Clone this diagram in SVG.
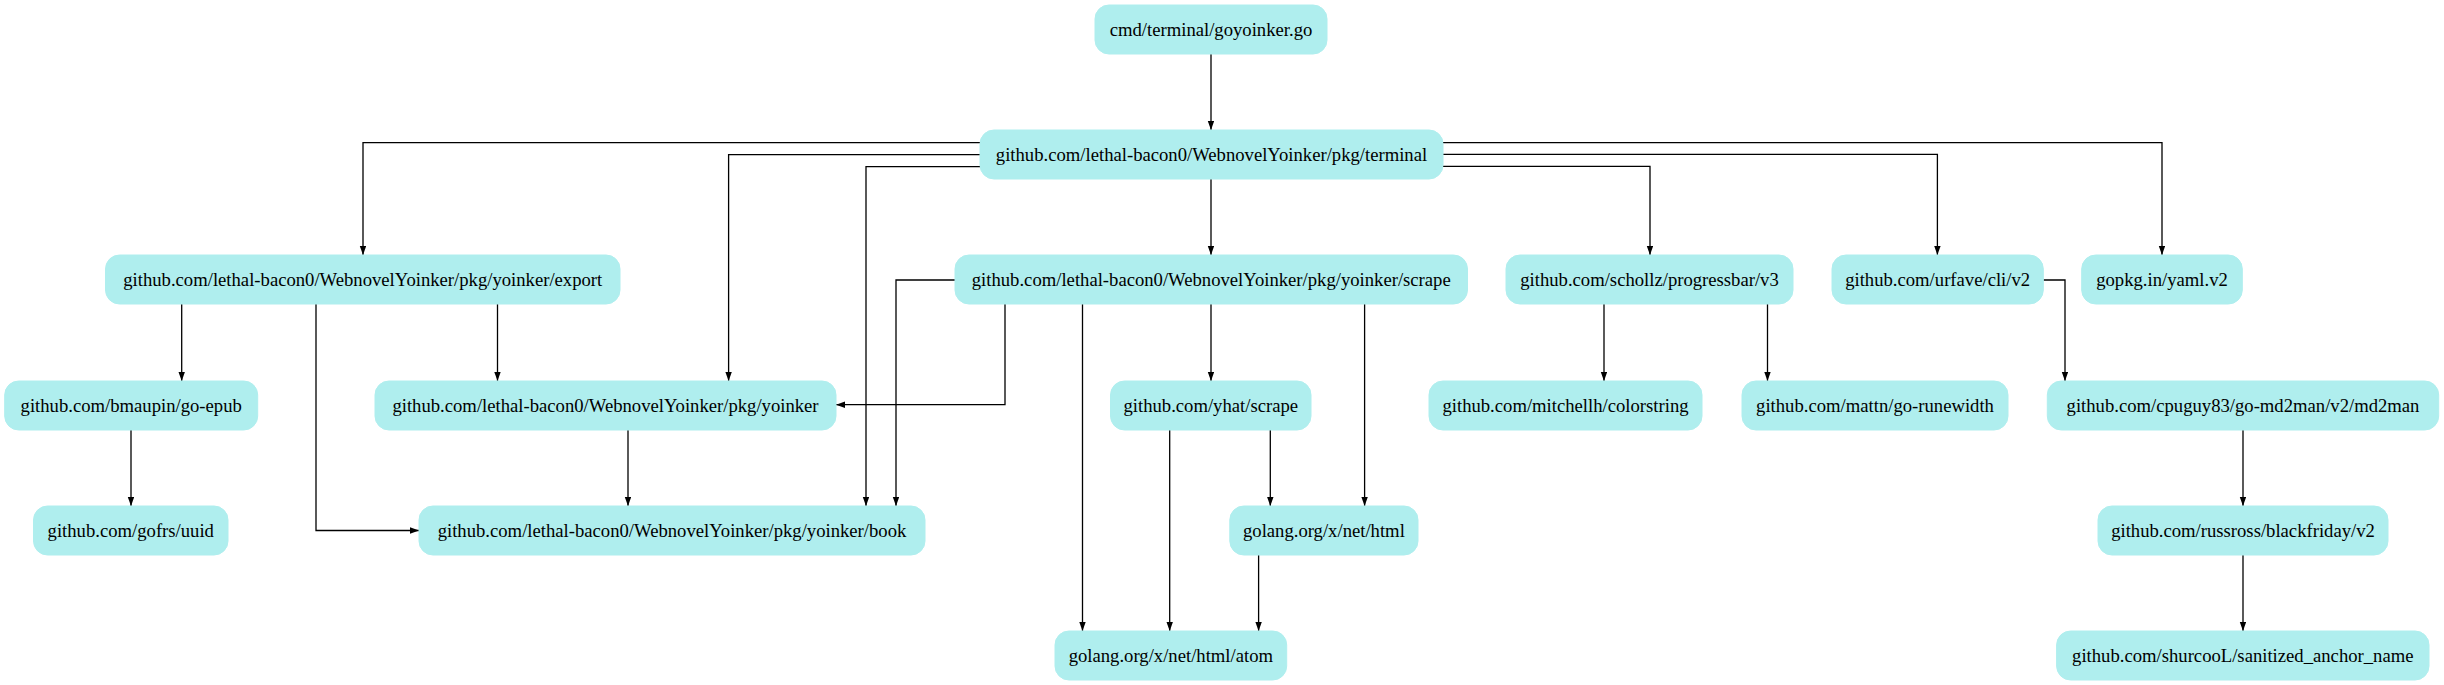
<svg xmlns="http://www.w3.org/2000/svg" width="2444" height="685" viewBox="0 0 2444 685">
<style>
.n rect{fill:#afeeee;stroke:#afeeee;stroke-width:1}
.n text{font-size:18.67px;fill:#000;text-anchor:middle}
.e path{fill:none;stroke:#000;stroke-width:1.3}
</style>
<defs>
<marker id="arr" markerUnits="userSpaceOnUse" markerWidth="10" markerHeight="7" refX="9" refY="3.2" orient="auto">
<path d="M0,0 L9,3.2 L0,6.4 z" fill="#000"/>
</marker>
</defs>
<rect width="2444" height="685" fill="#fff"/>
<g id="connectors" class="e">
<path marker-end="url(#arr)" d="M1211,54 V130"/>
<path marker-end="url(#arr)" d="M980,142.7 H363 V255"/>
<path marker-end="url(#arr)" d="M980,154.7 H728.6 V381"/>
<path marker-end="url(#arr)" d="M980,166.7 H866 V506"/>
<path marker-end="url(#arr)" d="M1211,179 V255"/>
<path marker-end="url(#arr)" d="M1443,166.3 H1650 V255"/>
<path marker-end="url(#arr)" d="M1443,154.3 H1937.4 V255"/>
<path marker-end="url(#arr)" d="M1443,142.7 H2162 V255"/>
<path marker-end="url(#arr)" d="M181.7,304 V381"/>
<path marker-end="url(#arr)" d="M316,304 V530.5 H419"/>
<path marker-end="url(#arr)" d="M497.5,304 V381"/>
<path marker-end="url(#arr)" d="M955,280 H896 V506"/>
<path marker-end="url(#arr)" d="M1005,304 V404.7 H836"/>
<path marker-end="url(#arr)" d="M1082.5,304 V631"/>
<path marker-end="url(#arr)" d="M1211,304 V381"/>
<path marker-end="url(#arr)" d="M1364.6,304 V506"/>
<path marker-end="url(#arr)" d="M628,430 V506"/>
<path marker-end="url(#arr)" d="M131,430 V506"/>
<path marker-end="url(#arr)" d="M1169.7,430 V631"/>
<path marker-end="url(#arr)" d="M1270.3,430 V506"/>
<path marker-end="url(#arr)" d="M1258.6,555 V631"/>
<path marker-end="url(#arr)" d="M1604,304 V381"/>
<path marker-end="url(#arr)" d="M1767.5,304 V381"/>
<path marker-end="url(#arr)" d="M2043.3,280 H2065 V381"/>
<path marker-end="url(#arr)" d="M2243,430 V506"/>
<path marker-end="url(#arr)" d="M2243,555 V631"/>
</g>
<g font-family="Liberation Serif, Times New Roman, Times, serif">
<g id="cmd" class="n"><rect x="1095" y="5" width="232" height="49" rx="14"/><text x="1211" y="35.5">cmd/terminal/goyoinker.go</text></g>
<g id="terminal" class="n"><rect x="980" y="130" width="463" height="49" rx="14"/><text x="1211.5" y="160.5">github.com/lethal-bacon0/WebnovelYoinker/pkg/terminal</text></g>
<g id="export" class="n"><rect x="105.5" y="255" width="514.5" height="49" rx="14"/><text x="362.75" y="285.5">github.com/lethal-bacon0/WebnovelYoinker/pkg/yoinker/export</text></g>
<g id="yscrape" class="n"><rect x="955" y="255" width="512.5" height="49" rx="14"/><text x="1211.25" y="285.5">github.com/lethal-bacon0/WebnovelYoinker/pkg/yoinker/scrape</text></g>
<g id="progressbar" class="n"><rect x="1506" y="255" width="287" height="49" rx="14"/><text x="1649.5" y="285.5">github.com/schollz/progressbar/v3</text></g>
<g id="urfave" class="n"><rect x="1832" y="255" width="211.3" height="49" rx="14"/><text x="1937.65" y="285.5">github.com/urfave/cli/v2</text></g>
<g id="yaml" class="n"><rect x="2081.7" y="255" width="160.6" height="49" rx="14"/><text x="2162" y="285.5">gopkg.in/yaml.v2</text></g>
<g id="goepub" class="n"><rect x="4.7" y="381" width="253" height="49" rx="14"/><text x="131.2" y="411.5">github.com/bmaupin/go-epub</text></g>
<g id="yoinker" class="n"><rect x="375" y="381" width="461" height="49" rx="14"/><text x="605.5" y="411.5">github.com/lethal-bacon0/WebnovelYoinker/pkg/yoinker</text></g>
<g id="yhat" class="n"><rect x="1110.5" y="381" width="200.5" height="49" rx="14"/><text x="1210.75" y="411.5">github.com/yhat/scrape</text></g>
<g id="colorstring" class="n"><rect x="1429" y="381" width="273" height="49" rx="14"/><text x="1565.5" y="411.5">github.com/mitchellh/colorstring</text></g>
<g id="runewidth" class="n"><rect x="1742" y="381" width="266" height="49" rx="14"/><text x="1875" y="411.5">github.com/mattn/go-runewidth</text></g>
<g id="md2man" class="n"><rect x="2047.3" y="381" width="391.4" height="49" rx="14"/><text x="2243" y="411.5">github.com/cpuguy83/go-md2man/v2/md2man</text></g>
<g id="uuid" class="n"><rect x="33.5" y="506" width="194.5" height="49" rx="14"/><text x="130.75" y="536.5">github.com/gofrs/uuid</text></g>
<g id="book" class="n"><rect x="419" y="506" width="506" height="49" rx="14"/><text x="672" y="536.5">github.com/lethal-bacon0/WebnovelYoinker/pkg/yoinker/book</text></g>
<g id="html" class="n"><rect x="1229.8" y="506" width="188.2" height="49" rx="14"/><text x="1323.9" y="536.5">golang.org/x/net/html</text></g>
<g id="blackfriday" class="n"><rect x="2098" y="506" width="290" height="49" rx="14"/><text x="2243" y="536.5">github.com/russross/blackfriday/v2</text></g>
<g id="atom" class="n"><rect x="1055" y="631" width="231.7" height="49" rx="14"/><text x="1170.85" y="661.5">golang.org/x/net/html/atom</text></g>
<g id="sanitized" class="n"><rect x="2056.6" y="631" width="372.4" height="49" rx="14"/><text x="2242.8" y="661.5">github.com/shurcooL/sanitized_anchor_name</text></g>
</g>
</svg>
